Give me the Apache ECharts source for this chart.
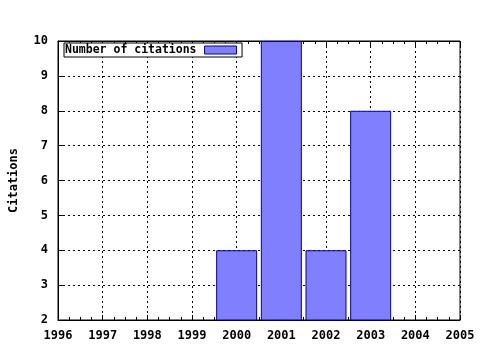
<!DOCTYPE html>
<html><head><meta charset="utf-8">
<script src="https://cdn.jsdelivr.net/npm/echarts@6/dist/echarts.min.js"></script>
<style>html,body{margin:0;padding:0;background:#fff}#c{width:480px;height:350px}</style>
</head><body><div id="c"></div>
<script>
const years = [2000, 2001, 2002, 2003];
const citations = [4, 10, 4, 8];
const seriesName = 'Number of citations';
const yTitle = 'Citations';

const font = {fontFamily: 'DejaVu Sans Mono', fontWeight: 'bold', fontSize: 12, color: '#000'};
const chart = echarts.init(document.getElementById('c'));
chart.setOption({
  animation: false,
  backgroundColor: '#fff',
  grid: {left: 55, right: 20, top: 41, bottom: 30, show: true, borderColor: '#000', borderWidth: 1},
  legend: {
    left: 64, top: 43, align: 'right', itemWidth: 32, itemHeight: 8, itemGap: 0,
    padding: [1, 5, 1, 1], borderColor: '#000', borderWidth: 1, backgroundColor: '#fff',
    textStyle: Object.assign({}, font, {fontSize: 11.5, padding: [0, 3, 0, 0]}),
    data: [{name: seriesName, icon: 'rect', itemStyle: {color: '#8080ff', borderColor: '#0000a0', borderWidth: 1}}]
  },
  xAxis: [{
    type: 'value', min: 1996, max: 2005, interval: 1, position: 'bottom',
    axisLine: {lineStyle: {color: '#000', width: 1}},
    axisTick: {inside: true, length: 5, lineStyle: {color: '#000'}},
    minorTick: {show: true, splitNumber: 4, length: 3, lineStyle: {color: '#000'}},
    axisLabel: Object.assign({}, font, {margin: 10, formatter: v => String(v)}),
    splitLine: {show: true, lineStyle: {color: '#000', type: [2, 3], width: 1}}
  }, {
    type: 'value', min: 1996, max: 2005, interval: 1, position: 'top',
    axisLine: {lineStyle: {color: '#000'}},
    axisTick: {inside: true, length: 5, lineStyle: {color: '#000'}},
    minorTick: {show: true, splitNumber: 4, length: 3, lineStyle: {color: '#000'}},
    axisLabel: {show: false}, splitLine: {show: false}
  }],
  yAxis: {
    type: 'value', min: 2, max: 10, interval: 1,
    name: yTitle, nameLocation: 'middle', nameGap: 38, nameRotate: 90,
    nameTextStyle: font,
    axisLine: {show: true, lineStyle: {color: '#000'}},
    axisTick: {show: true, inside: true, length: 5, lineStyle: {color: '#000'}},
    axisLabel: Object.assign({}, font, {margin: 10}),
    splitLine: {show: true, lineStyle: {color: '#000', type: [2, 3], width: 1}}
  },
  series: [{
    name: seriesName, type: 'bar', xAxisIndex: 0, barWidth: 41,
    itemStyle: {color: '#8080ff', borderColor: '#0000a0', borderWidth: 1},
    data: years.map((y, i) => [y, citations[i]]),
    z: 3
  }]
});
</script></body></html>
